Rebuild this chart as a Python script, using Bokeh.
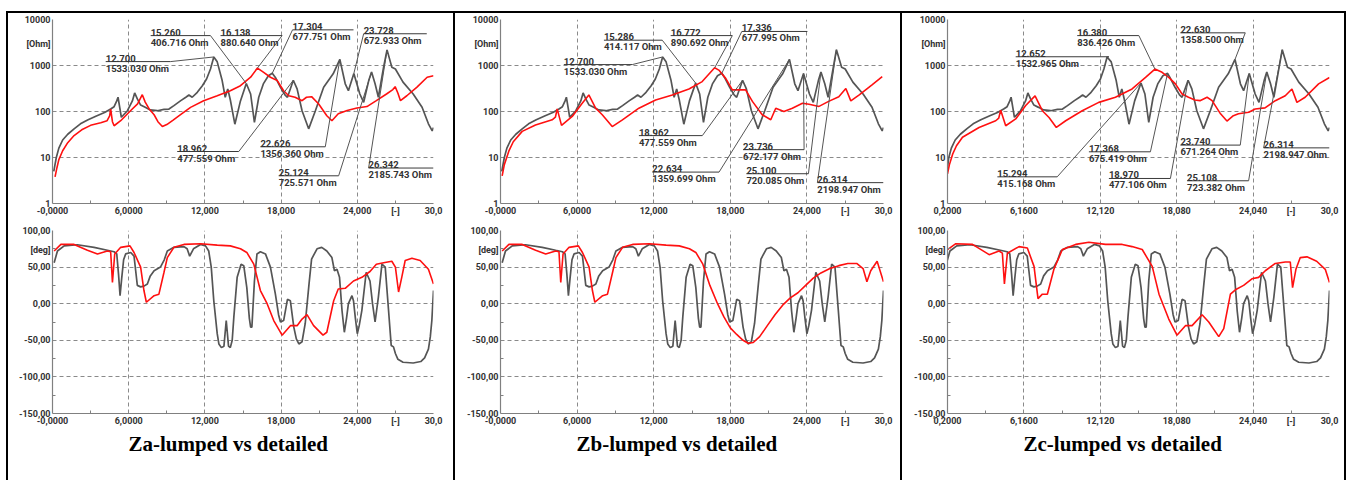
from bokeh.plotting import figure
from bokeh.models import Range1d, FixedTicker, Title, Spacer
from bokeh.layouts import row, column
from bokeh.embed import file_html
from bokeh.resources import INLINE
from bokeh.core.properties import value

# ---------------- data ----------------
xt_ab = [0, 6, 12, 18, 24, 27, 30]
xl_ab = ["-0,0000", "6,0000", "12,000", "18,000", "24,000", "[-]", "30,0"]
xm_ab = [3, 9, 15, 21, 27]
xt_c = [0.2, 6.16, 12.12, 18.08, 24.04, 27, 30]
xl_c = ["0,2000", "6,1600", "12,120", "18,080", "24,040", "[-]", "30,0"]
xm_c = [3.18, 9.14, 15.1, 21.06, 27.02]

mag_ticks = [1, 10, 100, 1000, 3000, 10000]
mag_labels = ["1", "10", "100", "1000", "[Ohm]", "10000"]
ph_ticks = [-150, -100, -50, 0, 50, 73, 100]
ph_labels = ["-150,00", "-100,00", "-50,00", "0,00", "50,00", "[deg]", "100,00"]
ph_minor = [-125, -75, -25, 25, 75]

captions = ["Za-lumped vs detailed", "Zb-lumped vs detailed", "Zc-lumped vs detailed"]

# detailed model |Z| (gray)
gx_m1 = [0.1, 0.3, 0.5, 0.8, 1.2, 1.7, 2.2, 2.8, 3.5, 4.1, 4.58, 4.85, 5.06, 5.16, 5.3, 5.42, 5.9, 6.29, 6.47,
         6.68, 6.94, 7.3, 7.7, 8.25, 8.78, 9.17, 9.56, 10.1, 10.5, 10.74, 11.0, 11.4, 11.8, 12.13, 12.44, 12.7,
         12.97, 13.36, 13.6, 13.8, 14.0, 14.36, 14.8, 15.26, 15.6, 15.9, 16.24, 16.6, 17.0, 17.304, 17.55, 17.95,
         18.3, 18.5, 18.962, 19.26, 19.65, 20.17, 20.7, 21.35, 22.1, 22.626, 23.05, 23.3, 23.728, 24.2, 24.5, 24.9,
         25.124, 25.4, 25.66, 26.07, 26.342, 26.72, 27.0, 27.6, 28.4, 29.1, 29.6, 29.9, 30.0]
gy_m1 = [5, 10, 16, 24, 32, 42, 54, 66, 81, 95, 113, 127, 170, 204, 120, 75, 104, 170, 253,
         188, 138, 123, 108, 104, 111, 113, 134, 172, 204, 228, 204, 261, 364, 510, 840, 1533.03,
         1200, 470, 204, 310, 180, 53, 170, 406.716, 240, 58, 204, 398, 600, 677.751, 550, 336,
         230, 204, 477.559, 310, 104, 42, 104, 336, 660, 1356.36, 400, 283, 672.933, 240, 158, 470,
         725.571, 400, 204, 920, 2185.743, 920, 840, 436, 240, 124, 54, 38, 45]

gx_m2 = [0.1, 0.3, 0.5, 0.8, 1.2, 1.7, 2.2, 2.8, 3.5, 4.1, 4.58, 4.85, 5.06, 5.16, 5.3, 5.42, 5.9, 6.29, 6.47,
         6.68, 6.94, 7.3, 7.7, 8.25, 8.78, 9.17, 9.56, 10.1, 10.5, 10.74, 11.0, 11.4, 11.8, 12.13, 12.44, 12.7,
         12.97, 13.36, 13.6, 13.8, 14.0, 14.36, 14.8, 15.286, 15.6, 15.9, 16.24, 16.6, 17.0, 17.336, 17.55, 17.95,
         18.3, 18.5, 18.962, 19.26, 19.65, 20.17, 20.7, 21.35, 22.1, 22.634, 23.05, 23.3, 23.736, 24.2, 24.5, 24.9,
         25.100, 25.4, 25.66, 26.07, 26.314, 26.72, 27.0, 27.6, 28.4, 29.1, 29.6, 29.9, 30.0]
gy_m2 = [5, 10, 16, 24, 32, 42, 54, 66, 81, 95, 113, 127, 170, 204, 120, 75, 104, 170, 253,
         188, 138, 123, 108, 104, 111, 113, 134, 172, 204, 228, 204, 261, 364, 510, 840, 1533.03,
         1200, 470, 204, 310, 180, 53, 170, 414.117, 240, 58, 204, 398, 600, 677.995, 550, 336,
         230, 204, 477.559, 310, 104, 42, 104, 336, 660, 1359.699, 400, 283, 672.177, 240, 158, 470,
         720.085, 400, 204, 920, 2198.947, 920, 840, 436, 240, 124, 54, 38, 45]

gx_m3 = [0.2, 0.3, 0.5, 0.8, 1.2, 1.7, 2.2, 2.8, 3.5, 4.1, 4.58, 4.85, 5.06, 5.16, 5.3, 5.42, 5.9, 6.29, 6.47,
         6.68, 6.94, 7.3, 7.7, 8.25, 8.78, 9.17, 9.56, 10.1, 10.5, 10.74, 11.0, 11.4, 11.8, 12.13, 12.40, 12.652,
         12.97, 13.36, 13.6, 13.8, 14.0, 14.36, 14.8, 15.294, 15.6, 15.9, 16.24, 16.6, 17.0, 17.368, 17.55, 17.95,
         18.3, 18.5, 18.970, 19.26, 19.65, 20.17, 20.7, 21.35, 22.1, 22.630, 23.05, 23.3, 23.740, 24.2, 24.5, 24.9,
         25.108, 25.4, 25.66, 26.07, 26.314, 26.72, 27.0, 27.6, 28.4, 29.1, 29.6, 29.9, 30.0]
gy_m3 = [6, 10, 16, 24, 32, 42, 54, 66, 81, 95, 113, 127, 170, 204, 120, 75, 104, 170, 253,
         188, 138, 123, 108, 104, 111, 113, 134, 172, 204, 228, 204, 261, 364, 510, 840, 1532.965,
         1200, 470, 204, 310, 180, 53, 170, 415.168, 240, 58, 204, 398, 600, 675.419, 550, 336,
         230, 204, 477.106, 310, 104, 42, 104, 336, 660, 1358.5, 400, 283, 671.264, 240, 158, 470,
         723.382, 400, 204, 920, 2198.947, 920, 840, 436, 240, 124, 54, 38, 45]

# lumped model |Z| (red)
rx_m1 = [0.2, 0.35, 0.5, 0.8, 1.2, 1.7, 2.3, 3.0, 3.8, 4.3, 4.5, 4.58, 4.72, 4.85, 5.37, 6.16, 6.7, 7.07, 7.3,
         7.6, 8.0, 8.3, 8.65, 9.0, 9.5, 10.0, 10.87, 11.9, 12.97, 14.0, 14.8, 15.6, 16.138, 16.6, 17.16, 17.7,
         18.2, 18.6, 19.1, 19.65, 20.0, 20.4, 20.96, 21.6, 22.0, 22.5, 23.2, 23.97, 24.76, 25.5, 26.3, 26.8, 26.98,
         27.2, 27.4, 27.9, 28.7, 29.5, 30.0]
ry_m1 = [3.8, 6, 9, 14, 21, 30, 40, 50, 57, 63, 80, 113, 60, 49, 63, 105, 146, 232, 160,
         115, 85, 60, 47, 52, 65, 82, 123, 172, 220, 283, 364, 556, 880.640, 715, 556, 470,
         283, 220, 204, 172, 204, 210, 146, 81, 63, 89, 105, 119, 128, 172, 240, 300, 347,
         250, 172, 220, 340, 556, 600]

rx_m2 = [0.13, 0.3, 0.65, 1.0, 1.7, 2.74, 4.05, 4.3, 4.44, 4.78, 5.62, 6.4, 6.92, 7.45, 7.97, 8.75, 9.55, 10.84,
         12.15, 13.46, 14.76, 15.8, 16.772, 17.1, 17.64, 18.16, 18.68, 19.2, 19.73, 20.5, 21.17, 21.56, 22.2,
         22.86, 23.65, 24.17, 24.95, 25.7, 26.5, 27.05, 27.44, 28.1, 29.1, 29.9]
ry_m2 = [4, 7, 13.7, 22, 37, 51, 66, 75, 114, 50, 78, 151, 229, 118, 85, 47, 66, 118,
         178, 229, 309, 447, 890.692, 794, 525, 295, 295, 295, 166, 85, 66, 118, 100,
         118, 151, 144, 129, 166, 209, 316, 170, 229, 380, 575]

rx_m3 = [0.2, 0.35, 0.6, 0.9, 1.37, 2.66, 3.96, 4.2, 4.35, 4.74, 5.52, 6.3, 7.03, 7.6, 8.12, 8.69, 9.42, 10.71,
         12.0, 13.3, 14.6, 15.65, 16.38, 16.94, 17.46, 17.98, 18.5, 19.0, 19.5, 19.9, 20.45, 20.84, 21.5, 22.0,
         22.5, 22.9, 23.7, 24.2, 24.97, 25.77, 26.55, 27.07, 27.46, 28.1, 29.15, 30.0]
ry_m3 = [4.4, 7, 11.8, 18, 27.5, 45, 63, 72, 107, 49, 69, 135, 219, 104, 74, 45, 63, 104,
         158, 204, 309, 550, 836.426, 710, 550, 398, 240, 204, 178, 172, 204, 172, 89, 62,
         81, 89, 96, 113, 120, 172, 220, 309, 158, 204, 398, 550]

# detailed model phase (gray), same in the three panels
gx_ph = [0.13, 0.39, 0.92, 1.96, 3.27, 4.32, 4.85, 5.06, 5.2, 5.32,
         5.45, 5.6, 5.76, 6.16, 6.42, 6.55, 6.68, 6.94, 7.2, 7.47,
         7.7, 8.0, 8.5, 8.8, 9.04, 9.56, 10.35, 10.6, 10.8, 11.1,
         11.66, 12.05, 12.3, 12.5, 12.7, 12.97, 13.1, 13.3, 13.5, 13.68,
         13.86, 14.0, 14.15, 14.28, 14.54, 14.85, 15.06, 15.3, 15.5, 15.6,
         15.7, 15.9, 16.1, 16.37, 16.77, 17.16, 17.55, 17.8, 17.95, 18.2,
         18.5, 18.73, 19.0, 19.2, 19.4, 19.65, 19.9, 20.2, 20.4, 20.83,
         21.2, 21.6, 22.0, 22.2, 22.4, 22.6, 22.8, 22.98, 23.15, 23.3,
         23.58, 23.7, 23.85, 24.0, 24.15, 24.36, 24.7, 25.0, 25.2, 25.4,
         25.66, 25.94, 26.2, 26.46, 26.67, 26.85, 27.0, 27.2, 27.6, 28.4,
         29.0, 29.3, 29.6, 29.75, 29.87, 30.0]
gy_ph = [56, 72, 79, 80.5, 77, 73, 71, 68, 40, 11,
         35, 60, 68, 70, 65, 45, 25, 23, 24, 27,
         38, 45, 50, 60, 72, 77, 78, 75, 65, 75,
         81, 79, 72, 50, 4, -41, -55, -60, -58, -23,
         -58, -60, -50, -18, 36, 54, 52, 22, -20, -32,
         -32, 31, 68, 71, 68, 50, 13, -15, -25, -23,
         6, 4, -32, -48, -55, -52, -27, 27, 61, 75,
         77, 72, 63, 45, 47, 36, -10, -39, -20, 0,
         11, 4, -20, -41, -30, -9, 43, 31, 0, -25,
         9, 54, 50, -9, -57, -59, -68, -76, -80, -81,
         -79, -74, -62, -45, -23, 18]

# lumped model phase (red)
rx_ph1 = [0.13, 0.66, 1.7, 2.75, 3.54, 4.32, 4.58, 4.72, 4.9, 5.37, 6.1, 6.42, 6.94, 7.2, 7.39, 8.0, 8.38, 8.78,
          9.04, 9.56, 10.35, 11.66, 12.97, 14.0, 14.8, 15.3, 15.85, 16.37, 16.9, 17.42, 18.08, 18.73, 19.26, 19.65,
          20.04, 20.56, 21.3, 21.6, 22.14, 22.5, 23.05, 23.7, 24.36, 25.0, 25.5, 26.07, 26.72, 27.0, 27.25, 27.5,
          27.77, 28.3, 28.95, 29.6, 30.0]
ry_ph1 = [72, 81, 81, 73, 68, 72, 71, 29, 68, 77, 79, 70, 50, 18, 2, 11, 13, 43,
          63, 77, 81, 82, 80, 79, 75, 70, 54, 18, 0, -23, -43, -30, -30, -21,
          -15, -30, -43, -39, 4, 20, 21, 31, 36, 44, 54, 56, 58, 50, 16, 36,
          59, 62, 59, 47, 27]

rx_ph2 = [0.13, 0.66, 1.7, 2.75, 3.54, 4.32, 4.58, 4.72, 4.9, 5.37, 6.1, 6.42, 6.94, 7.2, 7.39, 8.0, 8.38, 8.78,
          9.04, 9.56, 10.35, 11.66, 12.97, 14.0, 14.8, 15.3, 15.85, 16.4, 17.0, 17.5, 18.0, 18.5, 19.0, 19.4,
          19.8, 20.3, 20.9, 21.5, 22.1, 22.7, 23.3, 23.9, 24.5, 25.1, 25.8, 26.5, 27.2, 27.9, 28.4, 28.7, 29.0,
          29.5, 30.0]
ry_ph2 = [72, 81, 81, 73, 68, 72, 71, 29, 68, 77, 79, 70, 50, 18, 2, 11, 13, 43,
          63, 77, 81, 82, 80, 79, 75, 70, 54, 25, 0, -18, -33, -42, -50, -54,
          -53, -45, -30, -15, -2, 8, 15, 25, 35, 42, 48, 52, 55, 55, 48, 30, 45,
          58, 30]

rx_ph3 = [0.2, 0.85, 2.15, 3.45, 4.22, 4.48, 4.64, 4.87, 5.78, 6.43, 6.95, 7.26, 7.6, 7.99, 8.5, 9.16, 10.2,
          11.23, 12.53, 13.83, 14.6, 15.39, 16.17, 16.7, 17.46, 18.1, 18.76, 19.28, 20.06, 20.58, 21.36, 21.75,
          22.27, 22.66, 23.3, 23.95, 24.47, 24.99, 25.77, 26.55, 26.94, 27.12, 27.38, 27.72, 28.24, 29.0, 29.67, 30.0]
ry_ph3 = [74, 82, 81, 67, 72, 69, 27, 69, 78, 76, 51, 7, 13, 13, 47, 74, 81,
          84, 81, 81, 78, 74, 51, 13, -21, -43, -30, -30, -15, -25, -45, -34,
          13, 19, 25, 34, 36, 45, 55, 57, 57, 22, 47, 63, 64, 58, 47, 29]

# marker readouts (frequency, |Z| in Ohm)
ann_x1 = [12.700, 15.260, 16.138, 17.304, 18.962, 22.626, 23.728, 25.124, 26.342]
ann_y1 = [1533.030, 406.716, 880.640, 677.751, 477.559, 1356.360, 672.933, 725.571, 2185.743]
ann_x2 = [12.700, 15.286, 16.772, 17.336, 18.962, 22.634, 23.736, 25.100, 26.314]
ann_y2 = [1533.030, 414.117, 890.692, 677.995, 477.559, 1359.699, 672.177, 720.085, 2198.947]
ann_x3 = [12.652, 16.380, 22.630, 15.294, 17.368, 18.970, 23.740, 25.108, 26.314]
ann_y3 = [1532.965, 836.426, 1358.500, 415.168, 675.419, 477.106, 671.264, 723.382, 2198.947]

# ---------------- layout / style (not data) ----------------
# label box: (text left x, underline y, underline right x, leader side)
lay1 = [(4.19, 1216, 9.3, "R"), (7.73, 4467, 12.44, "R"), (13.23, 4467, 18.08, "R"), (18.9, 5957, 23.7, "L"),
        (9.82, 13.5, 14.67, "R"), (16.37, 17.1, 21.48, "R"), (24.5, 4898, 29.47, "L"), (17.81, 4.0, 22.53, "R"),
        (24.89, 5.9, 30.0, "L")]
lay2 = [(4.96, 1047, 10.32, "R"), (8.10, 3548, 12.67, "R"), (13.33, 4467, 18.16, "R"), (18.9, 5495, 24.04, "L"),
        (10.84, 29.9, 15.81, "R"), (11.89, 4.82, 17.12, "R"), (19.0, 14.8, 23.78, "R"), (19.26, 4.44, 24.12, "R"),
        (24.82, 2.84, 30.0, "L")]
lay3 = [(5.52, 1549, 12.79, "R"), (10.32, 4467, 15.13, "R"), (18.37, 5129, 23.43, "R"), (4.09, 3.8, 8.76, "R"),
        (11.23, 13.3, 16.03, "R"), (12.79, 3.5, 17.59, "R"), (18.37, 18.6, 23.04, "R"), (18.89, 3.12, 23.69, "R"),
        (24.86, 16.2, 30.0, "L")]

AXF = "Roboto"
GRAY = "#555555"
RED = "#ff1010"
LBL = "#333333"


def style(p, xt, xl, xm, yt, yl, ym, ygrid):
    p.outline_line_color = None
    p.background_fill_color = "white"
    p.border_fill_color = "white"
    p.xaxis.ticker = FixedTicker(ticks=xt, minor_ticks=xm)
    p.xaxis.major_label_overrides = dict(zip(xt, xl))
    p.yaxis.ticker = FixedTicker(ticks=yt, minor_ticks=ym)
    p.yaxis.major_label_overrides = dict(zip(yt, yl))
    p.xgrid.ticker = FixedTicker(ticks=[xt[1], xt[2], xt[3], xt[4], xt[6]])
    p.ygrid.ticker = FixedTicker(ticks=ygrid)
    for ax in (p.xaxis, p.yaxis):
        ax.axis_line_color = "#808080"
        ax.axis_line_width = 1.2
        ax.major_tick_in = 0
        ax.major_tick_out = 0
        ax.minor_tick_in = 3
        ax.minor_tick_out = 0
        ax.minor_tick_line_color = "#808080"
        ax.major_label_text_font = AXF
        ax.major_label_text_font_size = "9px"
        ax.major_label_text_font_style = "bold"
        ax.major_label_text_color = LBL
        ax.major_label_standoff = 2
    for g in (p.xgrid, p.ygrid):
        g.grid_line_color = "#8a8a8a"
        g.grid_line_dash = "4 3"
        g.grid_line_width = 1


def annotate(p, xs, ys, lay):
    for vx, vy, (tx, uy, ux, side) in zip(xs, ys, lay):
        p.segment(x0=[tx], y0=[uy], x1=[ux], y1=[uy], line_color="#3a3a3a", line_width=1)
        ax = tx if side == "L" else ux
        p.segment(x0=[ax], y0=[uy], x1=[vx], y1=[vy], line_color="#555555", line_width=1)
        p.text(x=[tx], y=[uy], text=[f"{vx:.3f}"], text_baseline="bottom", y_offset=0,
               text_font=value(AXF), text_font_size="9.5px", text_font_style="bold", text_color=LBL)
        p.text(x=[tx], y=[uy], text=[f"{vy:.3f} Ohm"], text_baseline="top", y_offset=1,
               text_font=value(AXF), text_font_size="9.5px", text_font_style="bold", text_color=LBL)


def panel(wl, wf, wr, xr, xt, xl, xm, gx, gy, rx, ry, rpx, rpy, axs, ays, lay, cap):
    m = figure(width=wl + wf + wr, height=211, x_range=Range1d(*xr), y_range=Range1d(1, 10000),
               y_axis_type="log", output_backend="svg", toolbar_location=None,
               min_border_left=wl, min_border_right=wr, min_border_top=6, min_border_bottom=21)
    style(m, xt, xl, xm, mag_ticks, mag_labels, [], [10, 100, 1000, 10000])
    m.line(gx, gy, line_color=GRAY, line_width=1.7)
    m.line(rx, ry, line_color=RED, line_width=1.6)
    annotate(m, axs, ays, lay)

    ph = figure(width=wl + wf + wr, height=256, x_range=Range1d(*xr), y_range=Range1d(-150, 100),
                output_backend="svg", toolbar_location=None,
                min_border_left=wl, min_border_right=wr, min_border_top=6, min_border_bottom=67)
    style(ph, xt, xl, xm, ph_ticks, ph_labels, ph_minor, [-100, -50, 0, 50, 100])
    ph.line(gx_ph, gy_ph, line_color=GRAY, line_width=1.7)
    ph.line(rpx, rpy, line_color=RED, line_width=1.6)
    ph.add_layout(Title(text=cap, align="left", offset=76, text_font="Liberation Serif",
                        text_font_size="21px", text_font_style="bold", text_color="black", standoff=2),
                  "below")
    return column(m, ph, spacing=0)


def bar(w, h):
    return Spacer(width=w, height=h, styles={"background-color": "black"})


c1 = panel(44, 381, 20, (0, 30), xt_ab, xl_ab, xm_ab, gx_m1, gy_m1, rx_m1, ry_m1,
           rx_ph1, ry_ph1, ann_x1, ann_y1, lay1, captions[0])
c2 = panel(45, 383, 17, (0, 30), xt_ab, xl_ab, xm_ab, gx_m2, gy_m2, rx_m2, ry_m2,
           rx_ph2, ry_ph2, ann_x2, ann_y2, lay2, captions[1])
c3 = panel(45, 382, 15, (0.2, 30), xt_c, xl_c, xm_c, gx_m3, gy_m3, rx_m3, ry_m3,
           rx_ph3, ry_ph3, ann_x3, ann_y3, lay3, captions[2])

top = row(Spacer(width=6, height=2), bar(1340, 2), spacing=0)
body = row(Spacer(width=6, height=467), bar(2, 467), c1, bar(2, 467), c2, bar(2, 467), c3, bar(2, 467),
           spacing=0)
layout = column(Spacer(width=1346, height=11), top, body, spacing=0)

open("out.html", "w").write(file_html(layout, INLINE))
